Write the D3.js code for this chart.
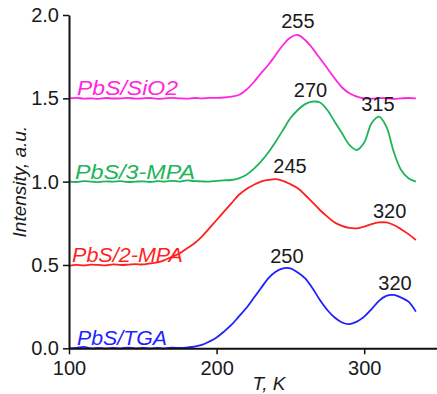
<!DOCTYPE html>
<html>
<head>
<meta charset="utf-8">
<script src="https://cdn.jsdelivr.net/npm/d3@7"></script>
<style>
  body { margin: 0; background: #fff; }
  svg { display: block; font-family: 'Liberation Sans', Arial, sans-serif; }
</style>
</head>
<body>
<div id="chart"></div>
<script>
// temperature grid, K
const temps = [100, 105, 110, 115, 120, 125, 130, 135, 140, 145, 150, 155, 160, 165, 170, 175,
  180, 185, 190, 195, 200, 205, 210, 215, 220, 225, 230, 235, 240, 245, 250, 255,
  260, 265, 270, 275, 280, 285, 290, 295, 300, 305, 310, 315, 320, 325, 330, 335];

const tga = [0.0, 0.002, 0.008, 0.0, 0.003, 0.0, 0.002, 0.0, 0.004, 0.0, 0.002, 0.0, 0.003, 0.0, 0.004, 0.002,
  0.005, 0.01, 0.02, 0.04, 0.065, 0.10, 0.14, 0.19, 0.24, 0.30, 0.36, 0.42, 0.46, 0.48, 0.48, 0.455,
  0.42, 0.36, 0.29, 0.23, 0.185, 0.155, 0.145, 0.16, 0.19, 0.235, 0.285, 0.315, 0.32, 0.305, 0.28, 0.22];

const mpa2 = [0.495, 0.5, 0.497, 0.502, 0.5, 0.498, 0.503, 0.5, 0.502, 0.505, 0.503, 0.51, 0.515, 0.53, 0.55, 0.57,
  0.60, 0.63, 0.67, 0.72, 0.77, 0.82, 0.87, 0.92, 0.955, 0.98, 1.0, 1.01, 1.015, 1.005, 0.985, 0.96,
  0.92, 0.875, 0.83, 0.79, 0.755, 0.735, 0.722, 0.72, 0.73, 0.745, 0.755, 0.755, 0.74, 0.715, 0.685, 0.65];

const mpa3 = [1.0, 0.998, 1.003, 1.0, 0.997, 1.002, 1.0, 1.003, 0.998, 1.0, 1.002, 0.998, 1.003, 1.0, 1.005, 1.0,
  1.008, 1.003, 1.002, 1.0, 1.005, 1.008, 1.01, 1.02, 1.04, 1.075, 1.12, 1.175, 1.24, 1.31, 1.38, 1.43,
  1.465, 1.48, 1.475, 1.43, 1.36, 1.29, 1.22, 1.19, 1.235, 1.35, 1.39, 1.33, 1.18, 1.07, 1.02, 1.0];

const sio2 = [1.5, 1.503, 1.498, 1.5, 1.497, 1.502, 1.499, 1.5, 1.503, 1.498, 1.5, 1.502, 1.497, 1.5, 1.503, 1.5,
  1.498, 1.502, 1.5, 1.503, 1.503, 1.505, 1.51, 1.52, 1.55, 1.595, 1.65, 1.70, 1.76, 1.82, 1.865, 1.88,
  1.85, 1.80, 1.74, 1.68, 1.62, 1.565, 1.53, 1.51, 1.5, 1.498, 1.502, 1.5, 1.497, 1.5, 1.502, 1.5];

const seriesNames = ['PbS/TGA', 'PbS/2-MPA', 'PbS/3-MPA', 'PbS/SiO2'];
const seriesColors = ['#1f1fff', '#ff1f1f', '#1db45a', '#ff26e0'];
const seriesValues = [tga, mpa2, mpa3, sio2];
const seriesBase = [0, 0.5, 1.0, 1.5];

// peak annotations: [T, value, text]
const peakLabels = [
  [247.6, 0.512, '250'], [320.9, 0.35, '320'],
  [249.7, 1.052, '245'], [317.2, 0.782, '320'],
  [263.6, 1.508, '270'], [309.3, 1.424, '315'],
  [255.1, 1.922, '255']
];

const xTicks = [100, 200, 300];
const yTicks = [0, 0.5, 1.0, 1.5, 2.0];

const width = 437;
const height = 394;

const svg = d3.select('#chart').append('svg')
  .attr('width', width)
  .attr('height', height);

const x = d3.scaleLinear().domain([100, 350]).range([69, 438]);
const y = d3.scaleLinear().domain([0, 2]).range([348.3, 15]);

const line = d3.line()
  .x((d, i) => x(temps[i]))
  .y(d => y(d))
  .curve(d3.curveCatmullRom.alpha(0.5));

seriesValues.forEach((vals, k) => {
  svg.append('path')
    .attr('d', line(vals))
    .attr('fill', 'none')
    .attr('stroke', seriesColors[k])
    .attr('stroke-width', 1.8)
    .attr('stroke-linejoin', 'round');
});

// axes
const xAxis = svg.append('g')
  .attr('transform', `translate(0,${y(0)})`)
  .call(d3.axisBottom(x).tickValues(xTicks).tickSize(6).tickPadding(7).tickSizeOuter(0));
const yAxis = svg.append('g')
  .attr('transform', `translate(${x(100)},0)`)
  .call(d3.axisLeft(y).tickValues(yTicks).tickFormat(d3.format('.1f')).tickSize(6).tickPadding(4).tickSizeOuter(0));

[xAxis, yAxis].forEach(g => {
  g.select('.domain').attr('stroke', '#111').attr('stroke-width', 2);
  g.selectAll('.tick line').attr('stroke', '#111').attr('stroke-width', 1.5);
  g.selectAll('.tick text')
    .attr('fill', '#1a1a1a')
    .style('font-size', '20px')
    .style('font-family', "'Liberation Sans', Arial, sans-serif");
});

// axis titles
svg.append('text')
  .attr('transform', `translate(26,${y(1.0)}) rotate(-90)`)
  .attr('text-anchor', 'middle')
  .attr('font-size', 19)
  .attr('font-style', 'italic')
  .attr('fill', '#1a1a1a')
  .text('Intensity, a.u.');

svg.append('text')
  .attr('x', 269)
  .attr('y', 390)
  .attr('text-anchor', 'middle')
  .attr('font-size', 19)
  .attr('font-style', 'italic')
  .attr('fill', '#1a1a1a')
  .text('T, K');

// series labels
const labelX = [77, 72, 75, 77];
const labelLen = [90, 111, 120, 101];
seriesNames.forEach((name, k) => {
  svg.append('text')
    .attr('x', labelX[k])
    .attr('y', y(seriesBase[k]) - 3)
    .attr('font-size', 20)
    .attr('font-style', 'italic')
    .attr('fill', seriesColors[k])
    .attr('textLength', labelLen[k])
    .attr('lengthAdjust', 'spacingAndGlyphs')
    .text(name);
});

// peak labels
svg.selectAll('text.peak')
  .data(peakLabels)
  .join('text')
  .attr('class', 'peak')
  .attr('x', d => x(d[0]))
  .attr('y', d => y(d[1]))
  .attr('text-anchor', 'middle')
  .attr('font-size', 20)
  .attr('fill', '#1a1a1a')
  .text(d => d[2]);
</script>
</body>
</html>
